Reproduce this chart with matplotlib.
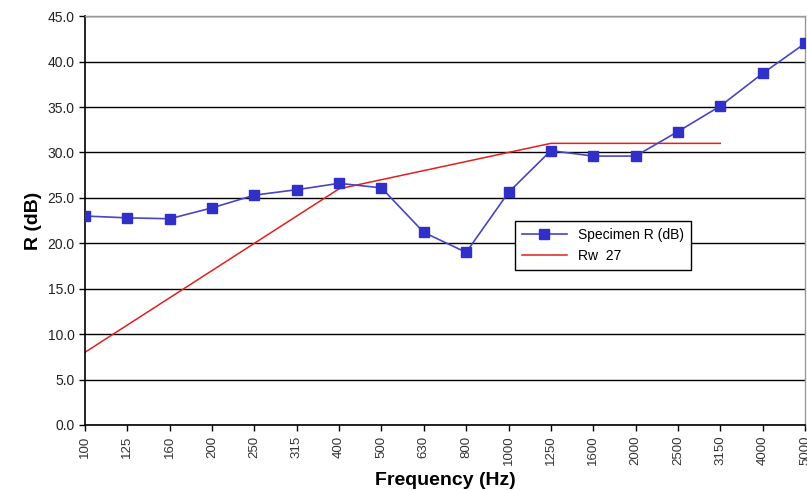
import matplotlib.pyplot as plt
import numpy as np

# Third-octave bands and measured/reference sound reduction index
freq_labels = ['100', '125', '160', '200', '250', '315', '400', '500', '630',
               '800', '1000', '1250', '1600', '2000', '2500', '3150', '4000', '5000']
specimen_r = [23.0, 22.8, 22.7, 23.9, 25.3, 25.9, 26.6, 26.1, 21.2,
              19.0, 25.6, 30.2, 29.6, 29.6, 32.3, 35.1, 38.7, 42.0]
# shifted reference curve (ISO 717-1), 100 - 3150 Hz
rw_curve = [8, 11, 14, 17, 20, 23, 26, 27, 28, 29, 30, 31, 31, 31, 31, 31]
y_ticks = np.arange(0, 45.1, 5)

plt.rcParams['font.family'] = ['Liberation Sans', 'DejaVu Sans']

fig = plt.figure(figsize=(8.07, 4.90), dpi=100)
ax = fig.add_axes([0.1053, 0.1327, 0.8922, 0.8343])

x = np.arange(len(freq_labels))
ax.plot(x, specimen_r, color='#4646c4', lw=1.2, marker='s', markersize=6.5,
        markerfacecolor='#3030c8', markeredgecolor='#3030c8', label='Specimen R (dB)', zorder=3)
ax.plot(x[:len(rw_curve)], rw_curve, color='#e02020', lw=1.1, label='Rw  27', zorder=2)

ax.set_xlim(0, len(freq_labels) - 1)
ax.set_ylim(0, 45)
ax.set_xticks(x)
ax.set_xticklabels(freq_labels, rotation=90, fontsize=9.5, color='#333333')
ax.set_yticks(y_ticks)
ax.set_yticklabels([f'{v:.1f}' for v in y_ticks], fontsize=10, color='#222222')
ax.tick_params(direction='out', length=4, width=1, color='black')

ax.yaxis.grid(True, color='black', lw=1.0)
ax.set_axisbelow(True)
for side in ['left', 'bottom']:
    ax.spines[side].set_color('black')
    ax.spines[side].set_linewidth(1.2)
for side in ['top', 'right']:
    ax.spines[side].set_color('#999999')
    ax.spines[side].set_linewidth(1.0)

ax.set_xlabel('Frequency (Hz)', fontsize=14, fontweight='bold', labelpad=5)
ax.set_ylabel('R (dB)', fontsize=14, fontweight='bold', labelpad=4)

leg = ax.legend(loc='upper left', bbox_to_anchor=(0.588, 0.515), fontsize=10,
                frameon=True, fancybox=False, framealpha=1, edgecolor='black',
                handlelength=3.2, borderpad=0.5, labelspacing=0.5)
leg.get_frame().set_linewidth(1.0)

fig.savefig('out.png', dpi=100, facecolor='white')
